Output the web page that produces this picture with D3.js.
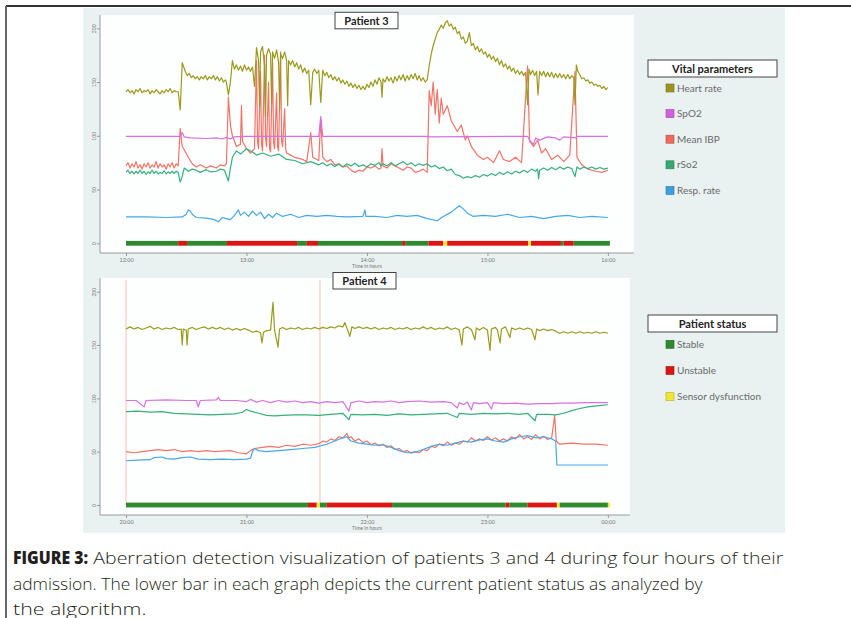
<!DOCTYPE html>
<html>
<head>
<meta charset="utf-8">
<script src="https://cdn.jsdelivr.net/npm/d3@7"></script>
<style>
  html, body { margin: 0; padding: 0; background: #ffffff; }
  svg { display: block; }
</style>
</head>
<body>
<svg id="chart" width="851" height="618"></svg>
<script>
// ---------------- DATA ----------------
// time in minutes from the start of each 4-hour window, value on the 0-200 scale
const seriesNames = ["Heart rate", "SpO2", "Mean IBP", "rSo2", "Resp. rate"];
const statusNames = ["Stable", "Unstable", "Sensor dysfunction"];
const yTickValues = [0, 50, 100, 150, 200];
const p3TickLabels = ["12:00", "13:00", "14:00", "15:00", "16:00"];
const p4TickLabels = ["20:00", "21:00", "22:00", "23:00", "00:00"];
const tickMinutes = [0, 60, 120, 180, 240];

const p3HeartRate = [[0,141],[1,143],[2,140],[3,142],[4,139],[5,143],[6,141],[7,144],[8,140],[9,142],[10,141],[11,143],[12,139],[13,142],[14,140],[15,143],[16,141],[17,139],[18,142],[19,140],[20,143],[21,141],[22,144],[23,140],[24,142],[25,141],[26,141],[27,124],[28,168],[29.5,160],[30.5,156],[31.5,158],[32.5,154],[33.5,156],[34.5,153],[35.5,155],[36.5,152],[37.5,155],[38.5,153],[39.5,156],[40.5,152],[41.5,155],[42.5,153],[43.5,156],[44.5,152],[45.5,155],[46.5,151],[47.5,154],[48.5,150],[49.5,152],[50,150],[51,138],[52,150],[53,170],[54,162],[55,166],[56,161],[57,165],[58,160],[59,166],[60,161],[61,164],[62,160],[63,164],[64,146],[65,182],[66,170],[66.5,128],[67,178],[68,183],[69,165],[69.5,118],[70,175],[71,181],[72,176],[72.5,130],[73,178],[74,172],[75,180],[76,168],[76.5,125],[77,176],[78,172],[79,178],[80,170],[80.5,128],[81,170],[82,166],[83,170],[84,164],[85,168],[86,162],[87,166],[88,159],[89,163],[90,158],[91,161],[92,129],[93,159],[94,162],[95,158],[96,161],[97,131],[98,161],[99,156],[100,159],[101,154],[102,157],[103,152],[104,155],[105,151],[106,154],[107,149],[108,152],[109,148],[110,151],[111,146],[112,149],[113,145],[114,148],[115,144],[116,147],[117,143],[118,146],[119,143],[120,148],[121,145],[122,150],[123,146],[124,152],[125,148],[126,154],[127,150],[127.5,136],[128,153],[129,150],[130,155],[131,151],[132,154],[133,149],[134,155],[135,151],[136,156],[137,152],[138,157],[139,151],[140,156],[141,152],[142,157],[143,153],[144,158],[145,152],[146,156],[147,151],[148,154],[149,150],[150,152],[151,165],[152,176],[153,184],[154,190],[155,196],[156,199],[157,203],[158,200],[159,205],[160,207],[161,202],[162,204],[163,199],[164,201],[165,195],[166,197],[167,190],[168,192],[169,186],[170,188],[171,196],[172,184],[173,186],[174,180],[175,183],[176,178],[177,181],[178,176],[179,178],[180,173],[181,176],[182,171],[183,174],[184,169],[185,172],[186,166],[187,170],[188,164],[189,167],[190,162],[191,165],[192,160],[193,163],[194,158],[195,161],[196,157],[197,160],[198,156],[199,159],[200,129],[200.7,162],[201.5,157],[202.5,161],[203.5,156],[204.5,160],[205.2,138],[206,160],[207,156],[208,160],[209,155],[210,159],[211,155],[212,159],[213,154],[214,158],[215,154],[216,158],[217,154],[218,157],[219,153],[220,157],[221,153],[222,156],[223,154],[223.6,129],[224.3,166],[225,160],[226,157],[227,153],[228,154],[229,151],[230,152],[231,149],[232,150],[233,147],[234,148],[235,146],[236,147],[237,144],[238,146],[239,143],[240,145]];
const p3SpO2 = [[0,99.5],[20,99.5],[27,99.5],[28,103],[29,99],[32,98],[40,97.5],[45,98],[48,97],[50,98.5],[52,97],[54,99],[58,99.5],[96,99.5],[97,118],[98,99.5],[150,99.5],[151,99],[200,99.5],[201,96],[203,92],[204,98],[206,96],[210,99],[214,98],[216,96],[218,99],[224,98],[224.6,99.5],[240,99.5]];
const p3MeanIBP = [[0,72],[1,75],[2,70],[3,74],[4,71],[5,76],[6,70],[7,73],[8,69],[9,74],[10,71],[11,75],[12,70],[13,73],[14,71],[15,76],[16,70],[17,74],[18,71],[19,73],[20,69],[21,74],[22,71],[23,75],[24,70],[25,74],[26,72],[27,107],[28,90],[29,87],[31,80],[33,74],[35,71],[37,73],[40,70],[42,72],[45,70],[47,73],[49,72],[50,74],[51,136],[52,110],[53,100],[55,90],[57,92],[57.5,128],[58,95],[60,88],[62,84],[64,88],[65,170],[65.5,95],[66,88],[67,160],[67.5,92],[68,86],[69,175],[69.5,98],[70,90],[71,150],[71.5,88],[72,85],[73,168],[73.5,94],[74,88],[75,140],[75.5,90],[76,86],[77,178],[77.5,95],[78,90],[79,125],[79.5,88],[80,84],[82,82],[84,80],[86,79],[88,78],[90,76],[92,103],[93,80],[95,78],[96,77],[97,116],[98,80],[100,76],[102,78],[104,73],[106,74],[108,71],[110,72],[112,68],[114,66],[116,68],[118,67],[120,71],[122,70],[124,72],[126,69],[127,70],[127.5,88],[128,72],[130,70],[132,74],[134,72],[136,70],[138,68],[140,71],[142,70],[144,66],[146,67],[148,69],[150,66],[151,142],[152,128],[153,150],[154,120],[155,143],[156,112],[157,135],[158,120],[160,128],[162,114],[165,104],[167,110],[169,96],[170,100],[172,90],[175,82],[178,78],[180,80],[183,75],[186,86],[188,78],[191,76],[194,80],[197,75],[200,165],[201,95],[203,90],[205,96],[207,84],[209,88],[212,78],[215,82],[218,76],[221,82],[223.6,160],[224.6,80],[227,73],[230,69],[234,67],[237,66],[240,68]];
const p3RSO2 = [[0,66],[1,68],[2,65],[3,67],[4,64.5],[5,67],[6,65],[7,68],[8,65],[9,67],[10,64],[11,66.5],[12,65],[13,68],[14,65],[15,67],[16,64.5],[17,66],[18,65],[19,67.5],[20,64.5],[21,66.5],[22,65],[23,67],[24,65],[25,67],[26,66],[27,57],[28,62],[29,70],[31,67],[33,69],[35,68],[37,66],[40,68.5],[42,66.5],[45,67],[47,69],[49,68],[51,58],[52,70],[53,80],[55,86],[57,83],[60,88],[63,85],[65,82],[68,84],[72,81],[76,83],[80,78],[84,77],[88,74],[92,76],[96,73],[98,75],[100,72],[102,74],[104,71.5],[106,73.5],[108,71],[110,74],[112,72],[114,74.5],[116,71.5],[118,73],[120,71],[122,74],[124,72.5],[126,75],[127,72],[128,74],[130,72],[132,75],[134,72],[136,74],[138,76],[140,73],[142,75],[144,72],[146,74],[148,72.5],[150,74],[152,71],[154,72.5],[156,69.5],[158,71],[160,67.5],[162,69],[164,64],[166,63],[168,60.5],[170,62],[172,61],[174,63],[176,61.5],[178,64],[180,62.5],[182,65],[184,63],[186,66],[188,64],[190,66.5],[192,64.5],[194,67],[196,65.5],[198,68],[200,66],[202,69],[204,67],[205,69],[205.5,60],[206,68],[208,70],[210,68],[212,70.5],[214,68.5],[216,71],[218,69],[220,71],[222,69.5],[223.6,62],[224.6,71],[226,69],[228,71],[230,69.5],[232,71],[234,69],[236,70.5],[238,69],[240,70]];
const p3RespRate = [[0,24.5],[10,24.5],[20,24],[28,24.5],[30,27],[31,31],[32,30],[33,27],[35,24],[40,23.5],[44,22],[46,20],[48,24],[50,23],[52,22],[54,26],[56,31],[57,26],[59,29],[61,25],[63,30],[65,26],[67,29],[69,23],[71,27],[73,24],[75,28],[78,25],[82,27],[86,24],[90,26],[95,25],[100,26],[105,25],[110,24.5],[118,25],[119,31],[119.5,25],[124,25],[130,24],[135,26],[140,25],[145,26],[150,23],[155,21],[158,25],[162,29],[166,35],[168,32],[170,28],[173,25],[178,26],[184,25],[190,27],[196,24],[202,25],[208,23],[214,25],[220,26],[226,24],[232,25],[240,24]];
// status segments: [start minute, end minute, status index]
const p3Status = [[0,26,0],[26,30.4,1],[30.4,50.3,0],[50.3,85.2,1],[85.2,90.1,0],[90.1,95.6,1],[95.6,137.5,0],[137.5,139,1],[139,150.6,0],[150.6,158,1],[158,160,2],[160,200.2,1],[200.2,201.7,2],[201.7,216.6,1],[216.6,218,0],[218,223,1],[223,241,0]];

const p4HeartRate = [[0,165],[2,167],[4,165],[6,166.5],[8,164.5],[10,166],[12,167.5],[14,165],[16,166.5],[18,164.5],[20,166],[22,165],[24,166.5],[26,164.5],[27.5,165],[28,150],[28.5,165],[30,164],[30.4,150],[31,165],[33,166.5],[35,164.5],[37,166],[39,167],[41,165],[43,166.5],[45,165],[47,166.5],[49,164.5],[51,166],[53,164],[55,165.5],[57,164],[59,165.5],[61,164],[63,162],[65,163],[67,161.5],[67.7,152],[68.5,162],[70,163.5],[72,164],[73.2,190],[74,164],[75.7,148],[76.5,165],[78,166.5],[80,164.5],[82,166],[84,165],[86,166.5],[88,164.5],[90,166],[92,165],[94,166.5],[96,165],[98,166.5],[100,165.5],[102,167],[104,166],[106,168],[108,167],[109,171],[110,166],[111.5,158],[112.5,167],[114,165.5],[116,167],[118,165.5],[120,166.5],[122,165],[124,166.5],[126,164.5],[128,166],[130,165],[132,166.5],[134,164.5],[136,166],[138,165],[140,166.5],[142,164.5],[144,166],[146,165],[148,167],[150,165],[152,166.5],[154,164.5],[156,166],[158,165],[160,167],[162,164.5],[164,166],[166,164],[167.3,150],[168,165],[170,167],[172,164.5],[173.8,155],[174.5,166],[176,164],[178,166.5],[180,164],[181.3,145],[182,165],[184,166.5],[185,164],[186.3,152],[187,165],[189,167],[191.2,157],[192,166],[194,164.5],[196,166],[198,164.5],[200,166],[202,164.5],[203.7,155],[204.5,165],[206,163.5],[208,165],[210,163.5],[212,164.5],[214,163],[216,161],[218,162.5],[220,161],[222,162.5],[224,161],[226,162.5],[228,161],[230,162],[232,161],[234,162.5],[236,161],[238,162],[240,161]];
const p4SpO2 = [[0,98],[5,98],[9,92],[10,98],[20,98.5],[30,98],[35,98],[36,92],[37,98],[45,98.5],[46,101],[47,98],[55,98],[60,97],[62,99],[65,96.5],[68,98],[72,96],[76,98],[80,96.5],[84,97.5],[88,96],[92,97],[96,95.5],[100,97],[104,96],[108,97],[111,88],[112,96],[116,97.5],[120,96],[124,97],[128,96.5],[132,97.5],[136,96],[140,97],[146,97.5],[152,96.5],[158,97],[162,96],[165,91],[166,96],[168,94],[170,96.5],[172,89],[173,96],[176,95],[180,96],[182,90],[183,96],[188,95],[194,95.5],[200,94.5],[206,95],[212,95],[216,95.5],[222,95.5],[228,96],[234,96],[240,96]];
const p4MeanIBP = [[0,50],[4,49],[8,50],[12,51],[16,52],[20,51],[24,52],[28,50],[32,51],[36,50],[40,51],[44,50],[48,50.5],[52,51],[56,49],[60,48],[62,51],[64,53],[68,54],[72,55],[76,54],[80,56],[84,55],[88,57],[92,56],[95,57],[96.6,58],[98,60],[100,59],[102,62],[104,60.5],[106,64],[108,63],[110,67],[111,63],[112,64],[114,60],[116,62],[118,58.5],[120,60],[122,56.5],[124,58],[126,55.5],[128,57],[130,54],[132,55.5],[134,52],[136,53],[138,50],[140,51],[142,48.5],[144,50],[146,49],[148,52],[150,51],[152,55],[154,54],[156,57],[158,55.5],[160,59],[162,56],[164,58],[166,57],[168,60],[170,59],[172,63],[174,60],[176,62],[178,60.5],[180,64],[182,61],[184,63],[186,60],[188,62],[190,60],[192,64],[194,62],[196,66],[198,62],[200,64],[202,61.5],[204,66],[206,62],[208,64.5],[210,61.5],[212,63],[213.5,84],[214.3,60],[216,57],[222,58],[228,57],[234,57],[240,56]];
// brief pressure-line artefacts (flushes) that run off the top of the scale
const p4IBPArtefacts = [0, 96.6];
const p4RSO2 = [[0,87.5],[6,88],[12,87],[18,87.5],[24,86],[30,85.5],[36,85],[42,84.5],[48,85],[54,85.5],[58,87],[60,89.5],[62,88],[66,86],[70,84],[74,83.5],[78,84],[84,84.5],[90,84.5],[96,84],[102,85],[108,86],[111,80],[112,85],[118,84.5],[124,85],[130,84],[136,85.5],[142,84.5],[148,85],[154,85.5],[160,86],[165,82],[166,86],[172,85],[178,86],[184,85.5],[190,86],[196,85],[200,86],[203.7,79],[204.5,85],[210,85],[214,84.5],[218,86],[222,88.5],[226,90.5],[230,92],[234,93],[240,94]];
const p4RespRate = [[0,41.5],[6,42],[12,42.5],[14,44.5],[18,45],[20,43.5],[24,43],[28,44.5],[32,45],[36,43],[42,42.5],[48,43],[54,42.5],[60,43],[62,44],[63,50],[64,53],[66,51],[70,50],[76,51],[82,52],[88,53],[94,54],[100,57],[104,60],[108,63],[110,64],[112,60],[116,58],[120,57],[124,56],[128,56.5],[132,54],[136,51],[140,49],[144,49.5],[148,52],[152,55],[156,57],[160,56],[164,58],[168,60],[172,59],[176,61],[180,62],[184,60],[188,59],[192,62],[196,64],[200,65],[204,63],[208,64],[212,62],[214,60],[214.6,37.5],[220,37.5],[230,37.5],[240,37.5]];
const p4Status = [[0,90.6,0],[90.6,95,1],[95,96.6,2],[96.6,100,0],[100,132.5,1],[132.5,189,0],[189,191,1],[191,200,0],[200,214.6,1],[214.6,216,2],[216,240,0],[240,241,2]];

// ---------------- STYLE ----------------
const seriesColors = ["#9b9a1e", "#d86fe4", "#f07468", "#36b07c", "#46a8e6"];
const legendColors = ["#9c9420", "#d45fe0", "#ee6a58", "#3aa874", "#3c9ee2"];
const statusColors = ["#2f8a2f", "#dc1414", "#f2e632"];
const drawOrder = [2, 3, 1, 0, 4];
const FONT = "Lato, 'Open Sans', sans-serif";
const CAPFONT = "'Open Sans', Lato, sans-serif";

const svg = d3.select("#chart");
const MIN = 60000;

// outer frame
svg.append("line").attr("x1", 6).attr("x2", 851).attr("y1", 6).attr("y2", 6).attr("stroke", "#333").attr("stroke-width", 2);
svg.append("line").attr("x1", 6).attr("x2", 6).attr("y1", 6).attr("y2", 618).attr("stroke", "#666").attr("stroke-width", 2);
// figure background
svg.append("rect").attr("x", 83).attr("y", 8).attr("width", 702).attr("height", 525).attr("fill", "#e9f1f1");

function panel(cfg) {
  const start = cfg.start;
  const tAt = m => new Date(start.getTime() + m * MIN);
  const x = d3.scaleTime().domain([tAt(-12.95), tAt(253)]).range([100, 634]);
  const y = d3.scaleLinear().domain([0, 200]).range([cfg.y0, cfg.y200]);

  const g = svg.append("g");
  g.append("rect").attr("x", 100).attr("y", cfg.top).attr("width", cfg.right - 100).attr("height", cfg.bottom - cfg.top).attr("fill", "#fdfefe");

  const clipId = "clip" + cfg.id;
  g.append("clipPath").attr("id", clipId).append("rect")
    .attr("x", 100).attr("y", cfg.top).attr("width", cfg.right - 100).attr("height", cfg.bottom - cfg.top);

  // artefact lines (full-height, faint)
  g.append("g").selectAll("line").data(cfg.artefacts || []).join("line")
    .attr("x1", d => x(tAt(d))).attr("x2", d => x(tAt(d)))
    .attr("y1", cfg.top + 2).attr("y2", y(0))
    .attr("stroke", seriesColors[2]).attr("stroke-opacity", 0.45).attr("stroke-width", 1);

  // status bar
  const sb = g.append("g");
  sb.selectAll("rect").data(cfg.status).join("rect")
    .attr("x", d => x(tAt(d[0])))
    .attr("width", d => x(tAt(d[1])) - x(tAt(d[0])))
    .attr("y", y(0) - 2.4)
    .attr("height", 4.8)
    .attr("fill", d => statusColors[d[2]]);

  const line = d3.line().x(d => x(tAt(d[0]))).y(d => y(d[1]));
  const lg = g.append("g").attr("clip-path", `url(#${clipId})`);
  drawOrder.forEach(i => {
    lg.append("path").datum(cfg.series[i]).attr("d", line)
      .attr("fill", "none").attr("stroke", seriesColors[i]).attr("stroke-width", 1.2)
      .attr("stroke-linejoin", "round");
  });

  // axes
  const xAxis = d3.axisBottom(x).tickValues(tickMinutes.map(tAt)).tickSize(3)
    .tickFormat((d, i) => cfg.tickLabels[i]);
  const xa = g.append("g").attr("transform", `translate(0,${cfg.bottom})`).call(xAxis);
  xa.select(".domain").remove();
  xa.append("line").attr("x1", 100).attr("x2", cfg.right).attr("stroke", "#9a9a9a");
  xa.selectAll(".tick line").attr("stroke", "#9a9a9a");
  xa.selectAll(".tick text").attr("font-family", FONT).attr("font-size", 5.5).attr("fill", "#777").attr("y", 5);

  const yAxis = d3.axisLeft(y).tickValues(yTickValues).tickSize(3);
  const ya = g.append("g").attr("transform", "translate(100,0)").call(yAxis);
  ya.select(".domain").remove();
  ya.append("line").attr("y1", cfg.top).attr("y2", cfg.bottom).attr("stroke", "#9a9a9a");
  ya.selectAll(".tick line").attr("stroke", "#9a9a9a");
  ya.selectAll(".tick text").attr("font-family", FONT).attr("font-size", 5).attr("fill", "#777")
    .attr("transform", "rotate(-90)").attr("x", 0).attr("y", -4.5).attr("dy", 0).attr("text-anchor", "middle");

  g.append("text").attr("x", (x(tAt(0)) + x(tAt(240))) / 2).attr("y", cfg.bottom + 15)
    .attr("text-anchor", "middle").attr("font-family", FONT).attr("font-size", 5).attr("fill", "#777")
    .text("Time in hours");

  // title box
  g.append("rect").attr("x", cfg.titleX).attr("y", cfg.titleY).attr("width", 63).attr("height", 16.5)
    .attr("fill", "#fff").attr("stroke", "#444").attr("stroke-width", 1);
  g.append("text").attr("x", cfg.titleX + 31.5).attr("y", cfg.titleY + 12.2).attr("text-anchor", "middle")
    .attr("font-family", FONT).attr("font-weight", 700).attr("font-size", 11).attr("fill", "#222")
    .text(cfg.title);
}

panel({ id: 3, start: new Date(2020, 0, 1, 12, 0), top: 15, bottom: 253, right: 634, y0: 243.3, y200: 28.3,
  series: [p3HeartRate, p3SpO2, p3MeanIBP, p3RSO2, p3RespRate], status: p3Status, tickLabels: p3TickLabels,
  title: "Patient 3", titleX: 335, titleY: 12.3 });
panel({ id: 4, start: new Date(2020, 0, 1, 20, 0), top: 278, bottom: 515, right: 630, y0: 505, y200: 291.7,
  series: [p4HeartRate, p4SpO2, p4MeanIBP, p4RSO2, p4RespRate], status: p4Status, tickLabels: p4TickLabels,
  artefacts: p4IBPArtefacts, title: "Patient 4", titleX: 333, titleY: 272.5 });

// legends
function legend(title, names, colors, boxY, firstY, step) {
  const g = svg.append("g");
  g.append("rect").attr("x", 648).attr("y", boxY).attr("width", 129).attr("height", 17)
    .attr("fill", "#fff").attr("stroke", "#444").attr("stroke-width", 1);
  g.append("text").attr("x", 712.5).attr("y", boxY + 12.5).attr("text-anchor", "middle")
    .attr("font-family", FONT).attr("font-weight", 700).attr("font-size", 11).attr("fill", "#222").text(title);
  names.forEach((n, i) => {
    const cy = firstY + i * step;
    g.append("rect").attr("x", 666).attr("y", cy - 4).attr("width", 8).attr("height", 8)
      .attr("fill", colors[i]).attr("stroke", d3.color(colors[i]).darker(0.8)).attr("stroke-width", 0.6);
    g.append("text").attr("x", 677).attr("y", cy + 3.6).attr("font-family", FONT).attr("font-size", 10)
      .attr("fill", "#6a6a6a").text(n);
  });
}
legend("Vital parameters", seriesNames, legendColors, 60, 88, 25.6);
legend("Patient status", statusNames, statusColors, 315, 344.3, 26.2);

// caption
const cap = svg.append("g").attr("font-family", CAPFONT).attr("font-size", 17).attr("fill", "#231f20");
cap.append("text").attr("x", 13).attr("y", 564).attr("font-weight", 800).attr("textLength", 75)
  .attr("lengthAdjust", "spacingAndGlyphs").text("FIGURE 3:");
cap.append("text").attr("x", 93.3).attr("y", 564).attr("font-weight", 300).attr("textLength", 690)
  .attr("lengthAdjust", "spacingAndGlyphs").text("Aberration detection visualization of patients 3 and 4 during four hours of their");
cap.append("text").attr("x", 13).attr("y", 590).attr("font-weight", 300).attr("textLength", 689.5)
  .attr("lengthAdjust", "spacingAndGlyphs").text("admission. The lower bar in each graph depicts the current patient status as analyzed by");
cap.append("text").attr("x", 13).attr("y", 614.5).attr("font-weight", 300).attr("textLength", 133.5)
  .attr("lengthAdjust", "spacingAndGlyphs").text("the algorithm.");
</script>
</body>
</html>
